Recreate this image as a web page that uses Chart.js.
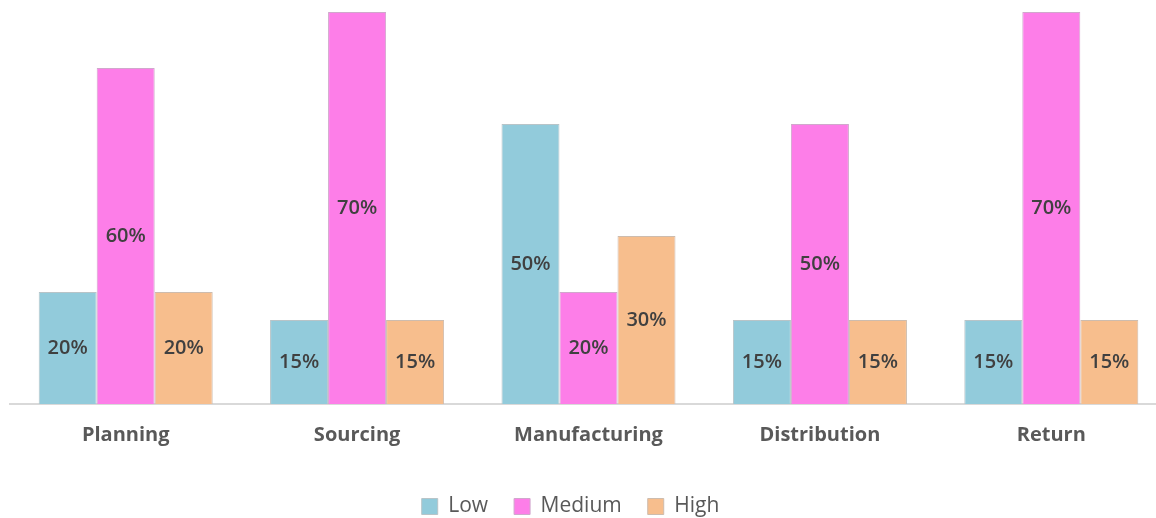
<!DOCTYPE html>
<html>
<head>
<meta charset="utf-8">
<script src="https://cdn.jsdelivr.net/npm/chart.js@4.4.0/dist/chart.umd.min.js"></script>
<style>
  html, body { margin: 0; padding: 0; background: #fff; overflow: hidden; width: 1156px; height: 518px; }
  #wrap { position: absolute; left: 0; top: 0; width: 1168px; height: 527px; }
</style>
</head>
<body>
<div id="wrap"><canvas id="chart"></canvas></div>
<script>
const categories = ["Planning", "Sourcing", "Manufacturing", "Distribution", "Return"];
const lowValues = [20, 15, 50, 15, 15];
const mediumValues = [60, 70, 20, 50, 70];
const highValues = [20, 15, 30, 15, 15];

// labels in the middle of each bar
const barLabels = {
    id: "barLabels",
    afterDatasetsDraw(chart) {
        const ctx = chart.ctx;
        ctx.save();
        ctx.font = "600 20px 'Open Sans'";
        ctx.fillStyle = "#404040";
        ctx.textAlign = "center";
        ctx.textBaseline = "middle";
        chart.data.datasets.forEach((ds, i) => {
            chart.getDatasetMeta(i).data.forEach((bar, j) => {
                ctx.fillText(ds.data[j] + "%", bar.x, (bar.y + bar.base) / 2);
            });
        });
        ctx.restore();
    }
};

// the legend sits a bit left of the plot centre in the original
const shiftLegend = {
    id: "shiftLegend",
    afterLayout(chart) {
        chart.legend.left -= 18;
        chart.legend.right -= 18;
    }
};

new Chart(document.getElementById("chart"), {
    type: "bar",
    data: {
        labels: categories,
        datasets: [
            { label: "Low", data: lowValues, backgroundColor: "#92cbdb", borderColor: "#b8c4c8" },
            { label: "Medium", data: mediumValues, backgroundColor: "#fd7ee8", borderColor: "#d0a8cc" },
            { label: "High", data: highValues, backgroundColor: "#f7be8d", borderColor: "#cdbcae" }
        ]
    },
    options: {
        responsive: true,
        maintainAspectRatio: false,
        animation: false,
        layout: { padding: { top: 12, left: 10, right: 1, bottom: 0 } },
        datasets: {
            bar: { barPercentage: 1, categoryPercentage: 0.752, borderWidth: 1, borderSkipped: "bottom" }
        },
        scales: {
            x: {
                grid: { display: false },
                border: { color: "#d9d9d9", width: 2 },
                ticks: { color: "#595959", padding: 11, font: { family: "'Open Sans'", size: 20, weight: "bold" } },
                // empty title only used as spacing above the legend
                title: { display: true, text: "", padding: 0, font: { size: 10, lineHeight: 1.2 } }
            },
            y: { display: false, min: 0, max: 70 }
        },
        plugins: {
            legend: {
                position: "bottom",
                labels: {
                    boxWidth: 16, boxHeight: 16, padding: 26, color: "#595959",
                    font: { family: "'Open Sans'", size: 21 }
                }
            },
            tooltip: { enabled: false }
        }
    },
    plugins: [barLabels, shiftLegend]
});
</script>
</body>
</html>
